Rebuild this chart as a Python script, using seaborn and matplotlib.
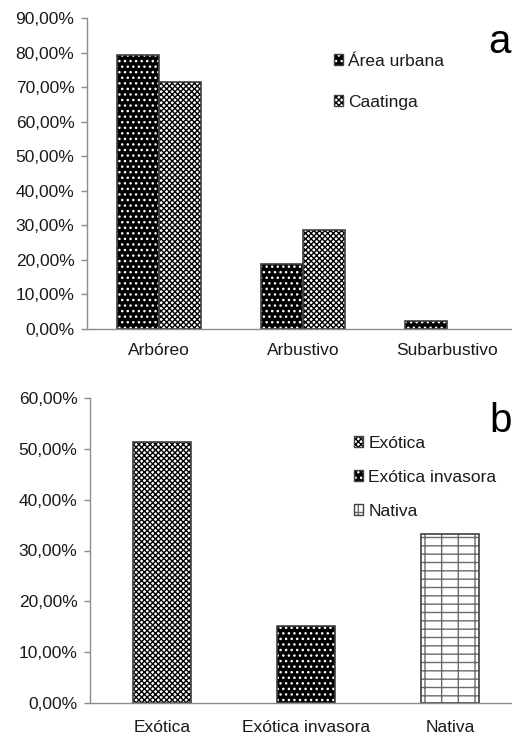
import pandas as pd
import matplotlib.pyplot as plt
import seaborn as sns
from matplotlib.patches import Patch
from matplotlib.legend_handler import HandlerTuple
from matplotlib.ticker import FuncFormatter, MultipleLocator

# dados (percentuais)
habitos = ["Arbóreo", "Arbustivo", "Subarbustivo"]
area_urbana = [79.2, 18.8, 2.3]
caatinga = [71.4, 28.6, 0.0]

origens = ["Exótica", "Exótica invasora", "Nativa"]
origem_pct = [51.3, 15.2, 33.3]

df_a = pd.DataFrame({
    "habito": habitos * 2,
    "grupo": ["Área urbana"] * 3 + ["Caatinga"] * 3,
    "pct": area_urbana + caatinga,
})
df_b = pd.DataFrame({"origem": origens, "pct": origem_pct})

sns.set_style("white")
plt.rcParams["font.family"] = ["Liberation Sans", "DejaVu Sans"]
plt.rcParams["hatch.linewidth"] = 1.0

txt = "#1a1a1a"
axis_col = "#8c8c8c"
edge_col = "#404040"

# estilo de cada série: (cor de fundo, cor do hachurado, hachura)
estilos_a = {"Área urbana": ("black", "white", "..."),
             "Caatinga": ("white", "black", "xxxxxx")}
estilos_b = {"Exótica": ("white", "black", "xxxxxx"),
             "Exótica invasora": ("black", "white", "..."),
             "Nativa": ("white", "#6a6a6a", "--|")}

fig = plt.figure(figsize=(5.12, 7.36), dpi=100)
ax1 = fig.add_axes([87 / 512, 407 / 736, 432 / 512, 311 / 736])
ax2 = fig.add_axes([90 / 512, 33 / 736, 432 / 512, 305 / 736])

sns.barplot(data=df_a, x="habito", y="pct", hue="grupo", order=habitos,
            hue_order=list(estilos_a), width=0.58, legend=False, ax=ax1)
sns.barplot(data=df_b, x="origem", y="pct", hue="origem", order=origens,
            hue_order=list(estilos_b), width=0.4, legend=False, ax=ax2)


def hachurar(ax, estilos):
    for cont, nome in zip(ax.containers, estilos):
        fc, hc, h = estilos[nome]
        for p in cont.patches:
            p.set_facecolor(fc)
            p.set_edgecolor(hc)
            p.set_hatch(h)
            p.set_linewidth(0)
            if p.get_height() > 0:
                ax.bar(p.get_x(), p.get_height(), width=p.get_width(),
                       align="edge", fill=False, edgecolor=edge_col,
                       linewidth=1.2, zorder=3)


def legenda(ax, estilos, anchor, spacing):
    handles = []
    for nome, (fc, hc, h) in estilos.items():
        handles.append((Patch(facecolor=fc, edgecolor=hc, hatch=h, linewidth=0),
                        Patch(fill=False, edgecolor=edge_col, linewidth=1)))
    ax.legend(handles, list(estilos), handler_map={tuple: HandlerTuple(ndivide=1, pad=0)},
              loc="upper left", bbox_to_anchor=anchor, frameon=False, borderpad=0,
              handlelength=0.55, handleheight=0.55, handletextpad=0.3,
              labelspacing=spacing, fontsize=12.5, labelcolor=txt)


hachurar(ax1, estilos_a)
hachurar(ax2, estilos_b)
legenda(ax1, estilos_a, (0.551, 0.913), 1.5)
legenda(ax2, estilos_b, (0.590, 0.905), 1.1)

fmt = FuncFormatter(lambda v, pos: f"{v:.2f}".replace(".", ",") + "%")
for ax, top, xpad in [(ax1, 90, 10), (ax2, 60, 12)]:
    ax.set_xlim(-0.5, 2.5)
    ax.set_ylim(0, top)
    ax.yaxis.set_major_locator(MultipleLocator(10))
    ax.yaxis.set_major_formatter(fmt)
    ax.set_xticks([0.5, 1.5], minor=True)
    ax.tick_params(axis="x", which="major", length=0, pad=xpad, labelsize=12.5, labelcolor=txt)
    ax.tick_params(axis="x", which="minor", length=5, width=1, color=axis_col, direction="out")
    ax.tick_params(axis="y", length=4, width=1, color=axis_col, direction="out",
                   pad=5, labelsize=12.5, labelcolor=txt, left=True)
    ax.set_xlabel("")
    ax.set_ylabel("")
    sns.despine(ax=ax)
    for s in ["left", "bottom"]:
        ax.spines[s].set_color(axis_col)
        ax.spines[s].set_linewidth(1)
    ax.spines["bottom"].set_zorder(4)

fig.text(500 / 512, 1 - 53 / 736, "a", fontsize=29, ha="center", va="baseline", color="black")
fig.text(501 / 512, 1 - 432 / 736, "b", fontsize=29, ha="center", va="baseline", color="black")

fig.savefig("out.png", dpi=100)
